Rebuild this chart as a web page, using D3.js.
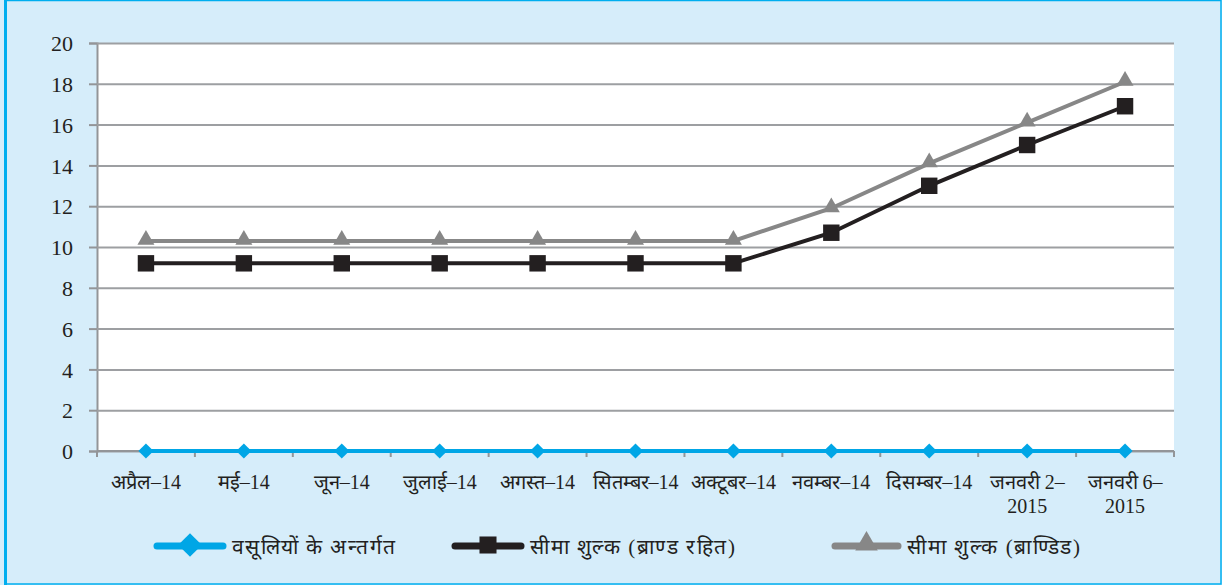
<!DOCTYPE html>
<html>
<head>
  <meta charset="utf-8">
  <style>
    body { margin: 0; }
    svg text { font-family: "Liberation Serif", "DejaVu Serif", "Times New Roman", Times, serif; fill: #231f20; }
  </style>
</head>
<body>
  <svg width="1222" height="585"></svg>
  <script src="https://d3js.org/d3.v7.min.js"></script>
  <script>
    const categories = ["अप्रैल–14", "मई–14", "जून–14", "जुलाई–14", "अगस्त–14", "सितम्बर–14",
      "अक्टूबर–14", "नवम्बर–14", "दिसम्बर–14", "जनवरी 2–\n2015", "जनवरी 6–\n2015"];
    const underRecovery = [0, 0, 0, 0, 0, 0, 0, 0, 0, 0, 0];
    const dutyUnbranded = [9.2, 9.2, 9.2, 9.2, 9.2, 9.2, 9.2, 10.7, 13.0, 15.0, 16.9];
    const dutyBranded = [10.3, 10.3, 10.3, 10.3, 10.3, 10.3, 10.3, 11.9, 14.1, 16.1, 18.1];
    const yTicks = [0, 2, 4, 6, 8, 10, 12, 14, 16, 18, 20];
    const seriesNames = ["वसूलियों के अन्तर्गत", "सीमा शुल्क (ब्राण्ड रहित)", "सीमा शुल्क (ब्राण्डिड)"];

    const svg = d3.select("svg");
    const W = 1222, H = 585;
    const plotL = 97, plotR = 1174, plotT = 43, plotB = 451;

    // frame
    svg.append("rect").attr("x", 0).attr("y", 0).attr("width", W).attr("height", H).attr("fill", "#d6edfa");
    svg.append("rect").attr("x", 5.5).attr("y", 0.5).attr("width", W - 6.5).attr("height", H - 1.5)
      .attr("fill", "none").attr("stroke", "#00aeef").attr("stroke-width", 1.5);
    svg.append("rect").attr("x", 4).attr("y", 0).attr("width", 3).attr("height", H).attr("fill", "#00aeef");
    svg.append("rect").attr("x", plotL).attr("y", plotT).attr("width", plotR - plotL).attr("height", plotB - plotT).attr("fill", "#fff");

    const x = d3.scaleBand().domain(d3.range(categories.length)).range([plotL, plotR]);
    const y = d3.scaleLinear().domain([0, 20]).range([plotB, plotT]);
    const cx = i => x(i) + x.bandwidth() / 2;

    // gridlines + y axis
    const yAxis = svg.append("g").attr("transform", `translate(${plotL},0)`)
      .call(d3.axisLeft(y).tickValues(yTicks).tickSize(8).tickPadding(16));
    yAxis.attr("font-family", null);
    yAxis.select(".domain").attr("stroke", "#939598").attr("stroke-width", 2);
    yAxis.selectAll(".tick line").attr("stroke", "#939598").attr("stroke-width", 2);
    yAxis.selectAll(".tick text").attr("font-size", 22).attr("dy", "0.35em").attr("fill", "#231f20");
    yAxis.selectAll(".tick").append("line").attr("x1", 0).attr("x2", plotR - plotL)
      .attr("stroke", "#9d9fa2").attr("stroke-width", 2);

    // x axis
    const xAxis = svg.append("g").attr("transform", `translate(0,${plotB})`);
    xAxis.append("line").attr("x1", plotL).attr("x2", plotR).attr("stroke", "#939598").attr("stroke-width", 2);
    xAxis.selectAll(".xt").data(d3.range(categories.length + 1)).join("line")
      .attr("x1", i => i < categories.length ? x(i) : plotR).attr("x2", i => i < categories.length ? x(i) : plotR)
      .attr("y1", 0).attr("y2", 6).attr("stroke", "#939598").attr("stroke-width", 2);
    categories.forEach((c, i) => {
      const parts = c.split("\n");
      const t = xAxis.append("text").attr("font-size", 20).attr("text-anchor", "middle")
        .attr("x", cx(i)).attr("y", 38);
      parts.forEach((p, k) => t.append("tspan").attr("x", cx(i)).attr("dy", k === 0 ? 0 : 24).text(p));
    });

    const line = d3.line().x((d, i) => cx(i)).y(d => y(d));
    const series = [
      { vals: underRecovery, color: "#00a6e6", shape: d3.symbolSquare, rot: 45, size: 115, legSize: 280 },
      { vals: dutyUnbranded, color: "#231f20", shape: d3.symbolSquare, rot: 0, size: 270, legSize: 290 },
      { vals: dutyBranded, color: "#878787", shape: d3.symbolTriangle, rot: 0, size: 125, legSize: 220 }
    ];

    series.forEach(s => {
      svg.append("path").datum(s.vals).attr("d", line).attr("fill", "none")
        .attr("stroke", s.color).attr("stroke-width", 4);
      svg.selectAll(null).data(s.vals).join("path")
        .attr("transform", (d, i) => `translate(${cx(i)},${y(d) - (s.shape === d3.symbolTriangle ? 1 : 0)}) rotate(${s.rot})`)
        .attr("d", d3.symbol().type(s.shape).size(s.size)).attr("fill", s.color);
    });

    // legend
    const legend = svg.append("g");
    const legX = [157, 455, 835];
    const legW = [66, 66, 63];
    const legTextW = [163, 205, 173];
    series.forEach((s, k) => {
      const g = legend.append("g").attr("transform", `translate(${legX[k]},546)`);
      g.append("line").attr("x1", 0).attr("x2", legW[k]).attr("stroke", s.color)
        .attr("stroke-width", 7).attr("stroke-linecap", "round");
      g.append("path").attr("transform", `translate(${legW[k] / 2},${s.shape === d3.symbolTriangle ? -2 : -1}) rotate(${s.rot})`)
        .attr("d", d3.symbol().type(s.shape).size(s.legSize)).attr("fill", s.color);
      g.append("text").attr("x", legW[k] + 9).attr("y", 1).attr("dy", "0.35em")
        .attr("font-size", 21).attr("textLength", legTextW[k]).attr("lengthAdjust", "spacing")
        .text(seriesNames[k]);
    });
  </script>
</body>
</html>
